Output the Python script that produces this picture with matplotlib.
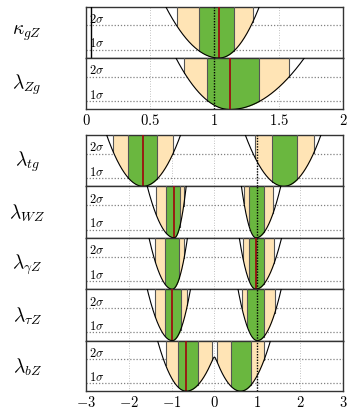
import numpy as np
import matplotlib.pyplot as plt

plt.rcParams['mathtext.fontset'] = 'cm'
plt.rcParams['font.family'] = 'serif'
plt.rcParams['font.serif'] = ['cmr10', 'DejaVu Serif']

# delta chi2 profiles: each branch is (best fit, x where it leaves the frame on the left, on the right)
TOP = 6.3

names_top = [r'$\kappa_{gZ}$', r'$\lambda_{Zg}$']
branches_top = [
    [(1.035, 0.62, 1.35)],
    [(1.12, 0.70, 1.70)],
]
orange_top = [
    [(0.705, 1.30)],
    [(0.765, 1.58)],
]
green_top = [
    [(0.878, 1.155)],
    [(0.945, 1.35)],
]
best_top = [1.035, 1.12]

names_bot = [r'$\lambda_{tg}$', r'$\lambda_{WZ}$', r'$\lambda_{\gamma Z}$',
             r'$\lambda_{\tau Z}$', r'$\lambda_{bZ}$']
branches_bot = [
    [(-1.67, -2.52, -0.79), (1.62, 0.72, 2.49)],
    [(-0.94, -1.57, -0.66), (0.97, 0.63, 1.55)],
    [(-0.985, -1.53, -0.63), (0.965, 0.58, 1.57)],
    [(-0.985, -1.57, -0.56), (1.0, 0.55, 1.56)],
    [(-0.66, -1.33, 0.12), (0.61, -0.11, 1.31)],
]
orange_bot = [
    [(-2.36, -0.97), (0.955, 2.315)],
    [(-1.37, -0.72), (0.69, 1.37)],
    [(-1.38, -0.71), (0.67, 1.40)],
    [(-1.38, -0.63), (0.64, 1.41)],
    [(-1.14, -0.05), (0.066, 1.156)],
]
green_bot = [
    [(-2.01, -1.34), (1.355, 1.94)],
    [(-1.14, -0.81), (0.80, 1.16)],
    [(-1.16, -0.82), (0.80, 1.15)],
    [(-1.155, -0.79), (0.76, 1.155)],
    [(-0.845, -0.378), (0.378, 0.845)],
]
best_bot = [-1.67, -0.94, 0.965, -0.985, -0.66]

ticks_top = [0, 0.5, 1, 1.5, 2]
ticklabels_top = ['$0$', '$0.5$', '$1$', '$1.5$', '$2$']
ticks_bot = [-3, -2, -1, 0, 1, 2, 3]
ticklabels_bot = ['$-3$', '$-2$', '$-1$', '$0$', '$1$', '$2$', '$3$']

ORANGE = '#ffe4b5'
GREEN = '#6ab73f'
RED = '#9b1010'
EDGE = '#555555'


def profile(branches, x):
    ys = []
    for x0, xl, xr in branches:
        w = np.where(x < x0, x0 - xl, xr - x0)
        ys.append(TOP * ((x - x0) / w) ** 2)
    ys = np.array(ys)
    # smooth minimum so the hump between two minima is rounded
    t = 0.4
    m = ys.min(axis=0)
    return m - t * np.log(np.exp(-(ys - m) / t).sum(axis=0))


def draw_band(ax, branches, a, b, color):
    xx = np.linspace(a, b, 300)
    yy = profile(branches, xx)
    ax.fill_between(xx, yy, TOP, where=yy < TOP, color=color, lw=0, zorder=2)
    for xe, ye in ((a, yy[0]), (b, yy[-1])):
        if ye < TOP:
            ax.plot([xe, xe], [ye, TOP], color=EDGE, lw=0.8, zorder=3)


def panel(ax, name, branches, orange, green, best, xlim, ticks):
    ax.set_xlim(*xlim)
    ax.set_ylim(0, TOP)
    for tx in ticks:
        ax.axvline(tx, color='#b0b0b0', lw=0.6, ls=(0, (1, 2)), zorder=1)
    for lev in (1, 4):
        ax.axhline(lev, color='#808080', lw=0.9, ls=(0, (1, 1.5)), zorder=1)
    for a, b in orange:
        draw_band(ax, branches, a, b, ORANGE)
    for a, b in green:
        draw_band(ax, branches, a, b, GREEN)
    ax.axvline(best, color=RED, lw=1.3, zorder=4)
    ax.axvline(1, color='black', lw=1.0, ls=(0, (1, 1)), zorder=5)
    xx = np.linspace(xlim[0], xlim[1], 1500)
    ax.plot(xx, profile(branches, xx), color='black', lw=0.8, zorder=6)
    ax.text(0.012, 4.85, r'$2\sigma$', transform=ax.get_yaxis_transform(),
            fontsize=9, va='center', ha='left', zorder=7)
    ax.text(0.012, 1.85, r'$1\sigma$', transform=ax.get_yaxis_transform(),
            fontsize=9, va='center', ha='left', zorder=7)
    ax.set_yticks([])
    ax.tick_params(axis='x', length=0, pad=2, labelsize=10.5)
    for s in ax.spines.values():
        s.set_color('#333333')
        s.set_linewidth(1.0)
    pos = ax.get_position()
    fig.text(0.078, (pos.y0 + pos.y1) / 2, name, fontsize=14, ha='center', va='center')


fig = plt.figure(figsize=(3.47, 4.10), dpi=100)
left, width, h = 0.248, 0.740, 0.1256

bottoms_top = [0.856, 0.7305]
for i in range(2):
    ax = fig.add_axes([left, bottoms_top[i], width, h])
    panel(ax, names_top[i], branches_top[i], orange_top[i], green_top[i],
          best_top[i], (0, 2), ticks_top)
    ax.set_xticks(ticks_top)
    if i == 0:
        ax.axvline(0.04, color='black', lw=1.0, zorder=6)
        ax.set_xticklabels([])
    else:
        ax.set_xticklabels(ticklabels_top)

bottoms_bot = [0.5432, 0.4176, 0.2922, 0.1668, 0.0435]
for i in range(5):
    ax = fig.add_axes([left, bottoms_bot[i], width, 0.1254 if i < 4 else 0.1234])
    panel(ax, names_bot[i], branches_bot[i], orange_bot[i], green_bot[i],
          best_bot[i], (-3, 3), ticks_bot)
    ax.set_xticks(ticks_bot)
    if i == 4:
        ax.set_xticklabels(ticklabels_bot)
    else:
        ax.set_xticklabels([])

fig.savefig('out.png', dpi=100)
